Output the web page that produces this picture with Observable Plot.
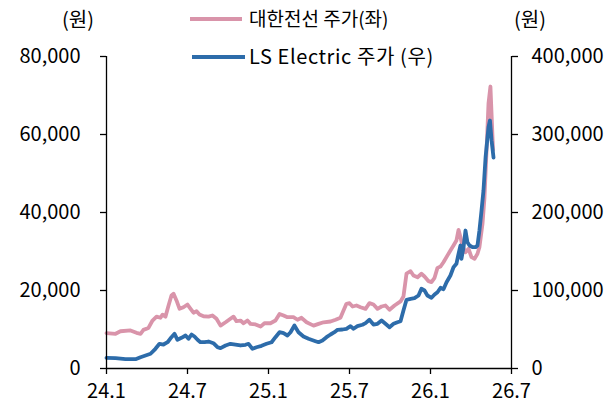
<!DOCTYPE html>
<html><head><meta charset="utf-8">
<script src="https://cdn.jsdelivr.net/npm/d3@7"></script>
<script src="https://cdn.jsdelivr.net/npm/@observablehq/plot@0.6"></script>
<style>
body{margin:0;background:#fff;}
#wrap{position:relative;width:616px;height:405px;font-family:"Noto Sans CJK KR",sans-serif;color:#000;overflow:hidden;}
#wrap svg{position:absolute;left:0;top:0;}
.t{position:absolute;white-space:nowrap;line-height:22px;height:22px;font-size:19px;}
.sw{position:absolute;height:4px;}
</style>
</head><body>
<div id="wrap"></div>
<script>
// ---- data (time as decimal year) ----
const pinkName = "대한전선 주가(좌)";
const blueName = "LS Electric 주가 (우)";
const unitLabel = "(원)";

const pinkT = [2024.000,2024.056,2024.086,2024.148,2024.185,2024.210,2024.228,2024.259,2024.284,2024.309,
2024.333,2024.346,2024.364,2024.383,2024.401,2024.414,2024.432,2024.451,2024.475,2024.500,
2024.519,2024.537,2024.556,2024.574,2024.599,2024.630,2024.654,2024.679,2024.704,2024.735,
2024.765,2024.784,2024.802,2024.827,2024.846,2024.870,2024.889,2024.920,2024.951,2024.975,
2025.012,2025.043,2025.068,2025.093,2025.117,2025.154,2025.179,2025.204,2025.235,2025.278,
2025.309,2025.340,2025.383,2025.414,2025.444,2025.463,2025.481,2025.500,2025.519,2025.543,
2025.568,2025.599,2025.623,2025.648,2025.673,2025.698,2025.722,2025.747,2025.778,2025.815,
2025.833,2025.852,2025.877,2025.895,2025.920,2025.944,2025.963,2025.988,2026.006,2026.025,
2026.043,2026.062,2026.080,2026.105,2026.123,2026.142,2026.160,2026.173,2026.185,2026.198,
2026.216,2026.235,2026.253,2026.272,2026.290,2026.302,2026.321,2026.333,2026.346,2026.358,
2026.370,2026.386];
const pinkV = [9050,8900,9550,9750,9150,8900,9900,10400,12300,13300,
13000,13800,13300,16150,18700,19150,17450,15300,15700,16400,
15300,14300,14700,13850,13400,13300,13600,12750,11000,11850,
12750,13300,12150,12300,11600,12300,11450,11300,10750,11600,
11600,12300,14000,13600,13150,13150,12500,13000,11850,11000,
11450,11850,12050,12500,13000,14850,16600,16750,15900,16150,
15700,15300,16750,16400,15300,15900,16150,15050,16150,17200,
18450,24350,24950,23850,23400,24300,23600,22400,22150,23250,
25800,26150,27250,29000,30250,31550,32800,35550,33650,31300,
29800,30700,28550,28150,29400,31100,37100,43600,55900,67950,
72300,56000];

const blueT = [2024.000,2024.056,2024.117,2024.179,2024.210,2024.241,2024.272,2024.302,2024.327,2024.352,
2024.377,2024.401,2024.420,2024.438,2024.463,2024.488,2024.506,2024.525,2024.543,2024.562,
2024.580,2024.605,2024.630,2024.660,2024.685,2024.704,2024.735,2024.765,2024.796,2024.827,
2024.858,2024.877,2024.901,2024.926,2024.957,2024.988,2025.019,2025.043,2025.068,2025.093,
2025.117,2025.136,2025.160,2025.185,2025.216,2025.247,2025.290,2025.309,2025.333,2025.358,
2025.383,2025.407,2025.426,2025.457,2025.481,2025.506,2025.525,2025.549,2025.580,2025.599,
2025.623,2025.648,2025.673,2025.698,2025.722,2025.747,2025.772,2025.796,2025.815,2025.833,
2025.852,2025.877,2025.901,2025.926,2025.944,2025.963,2025.981,2026.006,2026.025,2026.043,
2026.062,2026.080,2026.099,2026.123,2026.142,2026.160,2026.173,2026.185,2026.191,2026.204,
2026.216,2026.228,2026.241,2026.259,2026.278,2026.290,2026.302,2026.315,2026.327,2026.340,
2026.358,2026.367,2026.377,2026.389];
const blueV = [13700,13200,11900,11900,14500,16650,18850,25250,31650,30750,
33700,40150,44500,36800,39350,42300,38100,43600,41000,36800,
33700,33700,34600,32450,27300,26050,29500,31650,30750,29500,
30400,31650,25250,27300,29100,31650,33700,40150,46550,45250,
42300,46550,55150,46550,41000,38100,35000,33700,35900,40150,
43600,46550,49600,50000,50900,54250,50900,54250,56050,58100,
62450,56400,57300,61550,57300,52950,57300,59350,60650,74350,
88100,89350,90150,93600,102200,100000,93600,90650,94850,97800,
103450,101650,110650,119250,129850,134250,147050,157700,140650,155500,
176900,161900,157700,155500,155500,157700,176900,202550,228200,270900,
309350,317950,292300,270500];

const xTickValues = [2024, 2024.5, 2025, 2025.5, 2026, 2026.5];
const xTickLabels = ["24.1", "24.7", "25.1", "25.7", "26.1", "26.7"];
const leftTickValues = [0, 20000, 40000, 60000, 80000];
const leftTickLabels = ["0", "20,000", "40,000", "60,000", "80,000"];
const rightTickValues = [0, 100000, 200000, 300000, 400000];
const rightTickLabels = ["0", "100,000", "200,000", "300,000", "400,000"];

const pinkColor = "#D994AA";
const blueColor = "#2D6CAA";

// ---- build ----
const pink = pinkT.map((t, i) => ({t, v: pinkV[i]}));
const blue = blueT.map((t, i) => ({t, v: blueV[i]}));
const ratio = rightTickValues[rightTickValues.length-1] / leftTickValues[leftTickValues.length-1];
const xLab = new Map(xTickValues.map((d, i) => [d, xTickLabels[i]]));
const lLab = new Map(leftTickValues.map((d, i) => [d, leftTickLabels[i]]));
const rLab = new Map(leftTickValues.map((d, i) => [d, rightTickLabels[i]]));

const chart = Plot.plot({
  width: 616, height: 405,
  marginLeft: 106, marginRight: 105, marginTop: 56, marginBottom: 37,
  x: {type: "linear", domain: [2024, 2026.5]},
  y: {domain: [0, 80000]},
  style: {fontFamily: '"Noto Sans CJK KR", sans-serif', fontSize: "20px", color: "#000", background: "transparent", overflow: "visible"},
  marks: [
    Plot.line(pink, {x: "t", y: "v", stroke: pinkColor, strokeWidth: 3.8, strokeLinejoin: "round", strokeLinecap: "round"}),
    Plot.line(blue, {x: "t", y: d => d.v / ratio, stroke: blueColor, strokeWidth: 3.8, strokeLinejoin: "round", strokeLinecap: "round"}),
    Plot.ruleX([2024], {stroke: "#000", strokeWidth: 1.3}),
    Plot.ruleX([2026.5], {stroke: "#000", strokeWidth: 1.3}),
    Plot.ruleY([0], {stroke: "#000", strokeWidth: 1.3}),
    Plot.axisX({ticks: xTickValues, tickFormat: d => xLab.get(d), tickSize: 6, tickPadding: 9, label: null, strokeWidth: 1.3}),
    Plot.axisY({anchor: "left", ticks: leftTickValues, tickFormat: d => lLab.get(d), tickSize: 6, tickPadding: 20, label: null, strokeWidth: 1.3}),
    Plot.axisY({anchor: "right", ticks: leftTickValues, tickFormat: d => rLab.get(d), tickSize: 6, tickPadding: 14, label: null, strokeWidth: 1.3})
  ]
});
const wrap = document.getElementById("wrap");
wrap.appendChild(chart);

function addText(txt, left, top, extra) {
  const el = document.createElement("div");
  el.className = "t"; el.textContent = txt;
  el.style.left = left + "px"; el.style.top = top + "px";
  if (extra) Object.assign(el.style, extra);
  wrap.appendChild(el);
}
function addSwatch(color, left, top, w) {
  const el = document.createElement("div");
  el.className = "sw"; el.style.background = color;
  el.style.left = left + "px"; el.style.top = top + "px"; el.style.width = w + "px";
  wrap.appendChild(el);
}
addText(unitLabel, 62, 8, {fontSize: "20px"});
addText(unitLabel, 514, 8, {fontSize: "20px"});
addSwatch(pinkColor, 190, 17, 52);
addText(pinkName, 249, 7);
addSwatch(blueColor, 192, 55, 53);
addText(blueName, 249, 45, {fontSize: "20px", letterSpacing: "0.6px"});
</script>
</body></html>
